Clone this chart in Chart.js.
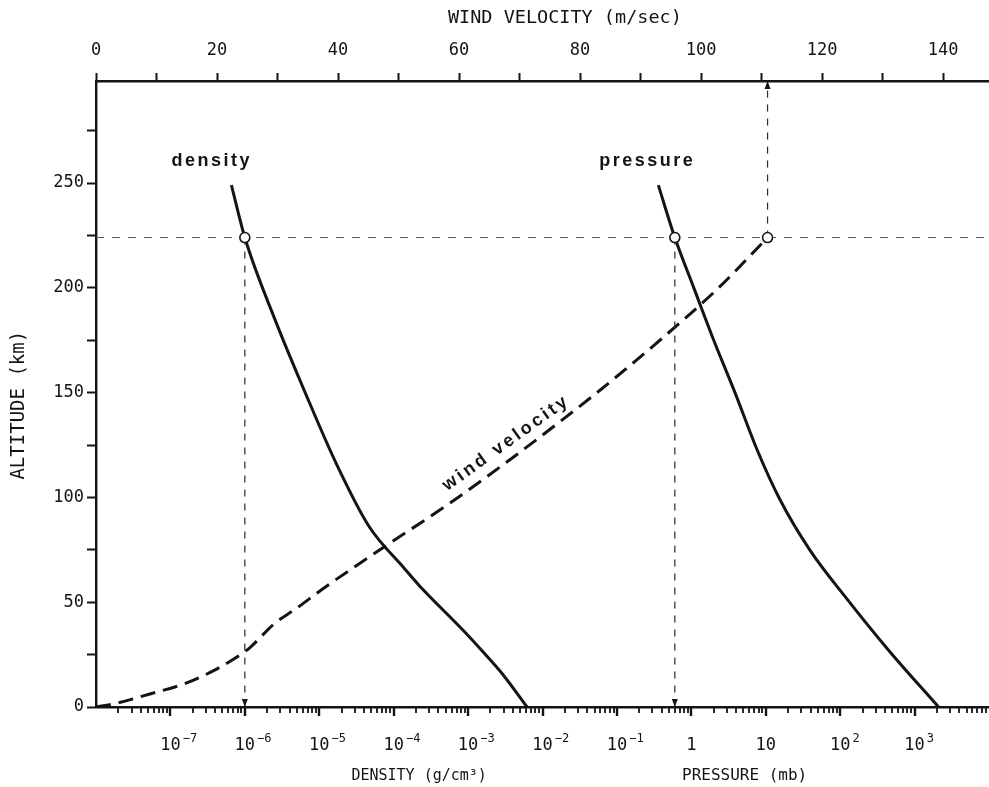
<!DOCTYPE html>
<html>
<head>
<meta charset="utf-8">
<script src="https://cdn.jsdelivr.net/npm/chart.js@4.4.1/dist/chart.umd.min.js"></script>
<style>
  html, body { margin: 0; padding: 0; background: #fff; }
  canvas { display: block; }
</style>
</head>
<body>
<canvas id="chart" width="989" height="787"></canvas>
<script>
// ---- Atmospheric profiles (altitude in km) ----
const densityAltitude = [249, 224, 184, 151, 116, 86.5, 66, 58, 36, 26.8, 16, 0];
const densityValues   = [6.6e-7, 1.0e-6, 2.6e-6, 6.3e-6, 1.7e-5, 4.6e-5, 1.4e-4, 2.2e-4, 8.9e-4, 1.54e-3, 2.86e-3, 6.2e-3]; // g/cm3

const pressureAltitude = [249, 224, 200, 175, 150, 123, 99, 75, 51, 27, 0];
const pressureValues   = [0.36, 0.6, 1.08, 2.0, 3.86, 7.6, 15.5, 39, 127, 450, 2100]; // mb

const windAltitude = [0, 1.4, 6.2, 11.5, 18.2, 23.5, 28.5, 39.6, 47, 56.2, 74.8, 96.3, 116.9, 135.5, 150, 175, 200, 224];
const windValues   = [0, 2.8, 8.9, 15, 20, 23.1, 25.5, 29.4, 33.1, 37.4, 46.8, 58, 67.9, 76.4, 82.8, 93.2, 102.9, 111]; // m/sec

// ---- Readings at the reference altitude ----
const markerAltitude   = 224;
const densityAtMarker  = 1.0e-6;
const pressureAtMarker = 0.6;
const windAtMarker     = 111;

// ---- Axes ----
const altitudeRange = [0, 298.7];
const altitudeStep = 25, altitudeLabelStep = 50;
const windRange = [0, 147.6];
const windStep = 10, windLabelStep = 20;
const logRange = [1e-8, 1e4];
const decadeExponents = [-8, -7, -6, -5, -4, -3, -2, -1, 0, 1, 2, 3];
const decadeMultipliers = [1, 2, 3, 4, 5, 6, 7, 8, 9];
const bottomTickValues = [1e-7, 1e-6, 1e-5, 1e-4, 1e-3, 1e-2, 1e-1, 1, 10, 100, 1000];
const bottomTickBase   = ['10', '10', '10', '10', '10', '10', '10', '1', '10', '10', '10'];
const bottomTickSup    = ['\u22127', '\u22126', '\u22125', '\u22124', '\u22123', '\u22122', '\u22121', '', '', '2', '3'];

const topTitle = 'WIND VELOCITY (m/sec)';
const sideTitle = 'ALTITUDE (km)';
const densityTitle = 'DENSITY (g/cm\u00B3)';
const pressureTitle = 'PRESSURE (mb)';

const ink = '#141414';
const AX = { family: '"DejaVu Sans Mono", monospace', tick: 17, sup: 12, top: 18.5, side: 19, density: 15, pressure: 16 };

const xy = (xs, ys) => xs.map((v, i) => ({ x: v, y: ys[i] }));

// Minor/major ticks of the logarithmic density/pressure axis
function logTicks() {
  const out = [];
  decadeExponents.forEach(e => decadeMultipliers.forEach(m => {
    const v = m * Math.pow(10, e);
    if (v > logRange[0] && v < logRange[1]) out.push({ value: v, major: m === 1 });
  }));
  return out;
}

// Keep the plot frame fixed: no extra side padding from tick labels
function fixBox(size, prop) {
  return s => {
    s[prop] = size;
    s.paddingLeft = 0; s.paddingRight = 0; s.paddingTop = 0; s.paddingBottom = 0;
  };
}

const annotate = {
  id: 'annotate',
  afterDatasetsDraw(chart) {
    const { ctx } = chart;
    ctx.save();
    ctx.fillStyle = ink;
    chart.data.datasets.forEach((ds, i) => {
      if (!ds.arrow) return;
      const pts = chart.getDatasetMeta(i).data;
      const p = pts[pts.length - 1];
      const dir = ds.arrow === 'down' ? -1 : 1;
      ctx.beginPath();
      ctx.moveTo(p.x, p.y);
      ctx.lineTo(p.x - 3, p.y + dir * 8);
      ctx.lineTo(p.x + 3, p.y + dir * 8);
      ctx.closePath();
      ctx.fill();
    });
    ctx.restore();
  },
  afterDraw(chart) {
    const { ctx, chartArea: area, scales: { x, x2, y } } = chart;
    ctx.save();

    // ticks below the logarithmic axis
    ctx.strokeStyle = ink;
    for (const t of x.ticks) {
      const px = Math.round(x.getPixelForValue(t.value));
      ctx.lineWidth = t.major ? 2.4 : 1.8;
      ctx.beginPath();
      ctx.moveTo(px, area.bottom);
      ctx.lineTo(px, area.bottom + (t.major ? 9 : 6));
      ctx.stroke();
    }

    // decade labels with raised exponents
    ctx.fillStyle = ink;
    ctx.textBaseline = 'alphabetic';
    const baseY = area.bottom + 43;
    bottomTickValues.forEach((v, i) => {
      const px = x.getPixelForValue(v);
      ctx.font = `${AX.tick}px ${AX.family}`;
      ctx.textAlign = 'center';
      const bw = ctx.measureText(bottomTickBase[i]).width;
      ctx.fillText(bottomTickBase[i], px, baseY);
      if (bottomTickSup[i]) {
        ctx.font = `${AX.sup}px ${AX.family}`;
        ctx.textAlign = 'left';
        ctx.fillText(bottomTickSup[i], px + bw / 2 + 2, baseY - 8);
      }
    });

    // axis titles
    ctx.textAlign = 'center';
    ctx.font = `${AX.density}px ${AX.family}`;
    ctx.fillText(densityTitle, x.getPixelForValue(2.2e-4), area.bottom + 73);
    ctx.font = `${AX.pressure}px ${AX.family}`;
    ctx.fillText(pressureTitle, x.getPixelForValue(5.2), area.bottom + 73);

    ctx.textBaseline = 'middle';
    ctx.font = `${AX.top}px ${AX.family}`;
    ctx.fillText(topTitle, x2.getPixelForValue(77.5), 18);

    ctx.save();
    ctx.font = `${AX.side}px ${AX.family}`;
    ctx.translate(19, y.getPixelForValue(144));
    ctx.rotate(-Math.PI / 2);
    ctx.fillText(sideTitle, 0, 0);
    ctx.restore();

    // curve names
    ctx.font = 'bold 18px "Liberation Sans", Arial, sans-serif';
    ctx.letterSpacing = '2.5px';
    ctx.fillText('density', x.getPixelForValue(3.6e-7), y.getPixelForValue(260.5));
    ctx.fillText('pressure', x.getPixelForValue(0.255), y.getPixelForValue(260.5));
    ctx.save();
    ctx.letterSpacing = '3px';
    ctx.translate(x2.getPixelForValue(67.8), y.getPixelForValue(126));
    ctx.rotate(-35.7 * Math.PI / 180);
    ctx.fillText('wind velocity', 0, 0);
    ctx.restore();

    ctx.restore();
  }
};

const marker = {
  showLine: false,
  pointRadius: 5,
  pointHoverRadius: 5,
  pointBackgroundColor: '#ffffff',
  pointBorderColor: ink,
  pointBorderWidth: 1.6,
  order: 0
};
const guide = {
  borderColor: '#2a2a2a',
  borderWidth: 1.2,
  borderDash: [7, 7],
  pointRadius: 0,
  fill: false,
  order: 1
};
const curve = {
  borderColor: ink,
  borderWidth: 3,
  pointRadius: 0,
  cubicInterpolationMode: 'monotone',
  fill: false,
  order: 2
};

new Chart(document.getElementById('chart'), {
  type: 'line',
  data: {
    datasets: [
      Object.assign({ label: 'density/pressure reading', xAxisID: 'x', yAxisID: 'y',
        data: xy([densityAtMarker, pressureAtMarker], [markerAltitude, markerAltitude]) }, marker),
      Object.assign({ label: 'wind reading', xAxisID: 'x2', yAxisID: 'y',
        data: xy([windAtMarker], [markerAltitude]) }, marker),
      Object.assign({ label: 'reference altitude', xAxisID: 'x2', yAxisID: 'y',
        data: xy(windRange, [markerAltitude, markerAltitude]) }, guide, { borderDash: [8, 8], borderWidth: 1, borderColor: '#555' }),
      Object.assign({ label: 'density drop', xAxisID: 'x', yAxisID: 'y', arrow: 'down',
        data: xy([densityAtMarker, densityAtMarker], [markerAltitude, altitudeRange[0]]) }, guide),
      Object.assign({ label: 'pressure drop', xAxisID: 'x', yAxisID: 'y', arrow: 'down',
        data: xy([pressureAtMarker, pressureAtMarker], [markerAltitude, altitudeRange[0]]) }, guide),
      Object.assign({ label: 'wind rise', xAxisID: 'x2', yAxisID: 'y', arrow: 'up',
        data: xy([windAtMarker, windAtMarker], [markerAltitude, altitudeRange[1]]) }, guide),
      Object.assign({ label: 'density', xAxisID: 'x', yAxisID: 'y',
        data: xy(densityValues, densityAltitude) }, curve),
      Object.assign({ label: 'pressure', xAxisID: 'x', yAxisID: 'y',
        data: xy(pressureValues, pressureAltitude) }, curve),
      Object.assign({ label: 'wind velocity', xAxisID: 'x2', yAxisID: 'y',
        data: xy(windValues, windAltitude) }, curve, { borderDash: [15, 8], borderWidth: 3 })
    ]
  },
  options: {
    responsive: false,
    devicePixelRatio: 1,
    animation: false,
    layout: { padding: 0, autoPadding: false },
    plugins: { legend: { display: false }, tooltip: { enabled: false } },
    scales: {
      x: {
        type: 'logarithmic',
        position: 'bottom',
        min: logRange[0],
        max: logRange[1],
        afterBuildTicks: s => { s.ticks = logTicks(); },
        afterFit: fixBox(80, 'height'),
        ticks: { display: false },
        grid: { display: false },
        border: { display: true, color: ink, width: 2.6 }
      },
      x2: {
        type: 'linear',
        position: 'top',
        min: windRange[0],
        max: windRange[1],
        afterFit: fixBox(81, 'height'),
        ticks: {
          stepSize: windStep,
          includeBounds: false,
          autoSkip: false,
          maxRotation: 0,
          padding: 12,
          color: ink,
          font: { family: AX.family, size: AX.tick },
          callback: v => (v % windLabelStep === 0 ? String(v) : '')
        },
        grid: { drawOnChartArea: false, tickLength: 8, tickWidth: 2, tickColor: ink },
        border: { display: true, color: ink, width: 2.6 }
      },
      y: {
        type: 'linear',
        position: 'left',
        min: altitudeRange[0],
        max: altitudeRange[1],
        afterFit: fixBox(96, 'width'),
        ticks: {
          stepSize: altitudeStep,
          includeBounds: false,
          autoSkip: false,
          padding: 3,
          color: ink,
          font: { family: AX.family, size: AX.tick },
          callback: v => (v % altitudeLabelStep === 0 ? String(v) : '')
        },
        grid: { drawOnChartArea: false, tickLength: 9, tickWidth: 2, tickColor: ink },
        border: { display: true, color: ink, width: 2.4 }
      }
    }
  },
  plugins: [annotate]
});
</script>
</body>
</html>
